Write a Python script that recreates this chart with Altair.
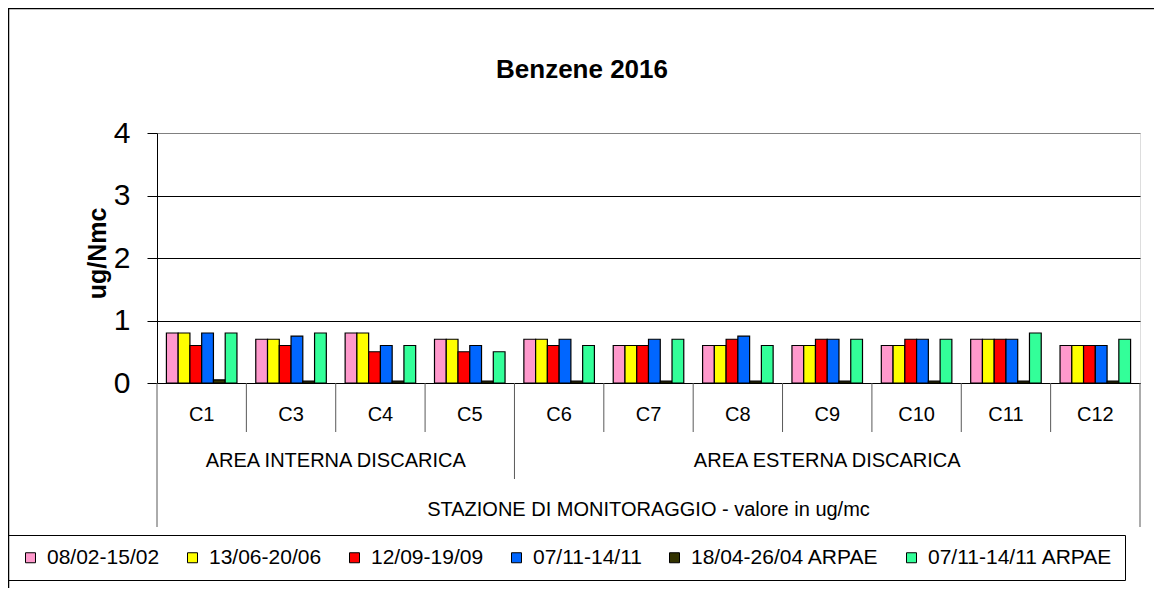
import altair as alt
import pandas as pd

# ---------------- data ----------------
chart_title = "Benzene 2016"
stations = ["C1", "C3", "C4", "C5", "C6", "C7", "C8", "C9", "C10", "C11", "C12"]
group_names = ["AREA INTERNA DISCARICA", "AREA ESTERNA DISCARICA"]
group_members = [["C1", "C3", "C4", "C5"],
                 ["C6", "C7", "C8", "C9", "C10", "C11", "C12"]]
axis_caption = "STAZIONE DI MONITORAGGIO - valore in ug/mc"

series = ["08/02-15/02", "13/06-20/06", "12/09-19/09", "07/11-14/11",
          "18/04-26/04 ARPAE", "07/11-14/11 ARPAE"]
colors = ["#FF99CC", "#FFFF00", "#FF0000", "#0066FF", "#333300", "#33FF99"]

v_0802 = [0.8, 0.7, 0.8, 0.7, 0.7, 0.6, 0.6, 0.6, 0.6, 0.7, 0.6]
v_1306 = [0.8, 0.7, 0.8, 0.7, 0.7, 0.6, 0.6, 0.6, 0.6, 0.7, 0.6]
v_1209 = [0.6, 0.6, 0.5, 0.5, 0.6, 0.6, 0.7, 0.7, 0.7, 0.7, 0.6]
v_0711 = [0.8, 0.75, 0.6, 0.6, 0.7, 0.7, 0.75, 0.7, 0.7, 0.7, 0.6]
v_1804_arpae = [0.05, 0.03, 0.03, 0.03, 0.03, 0.03, 0.03, 0.03, 0.03, 0.03, 0.03]
v_0711_arpae = [0.8, 0.8, 0.6, 0.5, 0.6, 0.7, 0.6, 0.7, 0.7, 0.8, 0.7]

y_ticks = [0, 1, 2, 3, 4]

FONT = "Liberation Sans"

# ---------------- tables ----------------
all_values = [v_0802, v_1306, v_1209, v_0711, v_1804_arpae, v_0711_arpae]
rows = []
for s, vals in zip(series, all_values):
    for st, v in zip(stations, vals):
        rows.append({"station": st, "series": s, "value": v})
bars_df = pd.DataFrame(rows)

first_of_groups = [g[0] for g in group_members]
inner_sep = pd.DataFrame({"station": [s for s in stations if s not in first_of_groups]})
group_sep = pd.DataFrame({"station": [g[0] for g in group_members[1:]]})
outer_start = pd.DataFrame({"station": [stations[0]]})
outer_end = pd.DataFrame({"station": [stations[-1]]})


def center_anchor(members):
    n = len(members)
    if n % 2 == 0:
        return members[n // 2 - 1], 1.0
    return members[n // 2], 0.5


xscale = alt.Scale(domain=stations, paddingInner=0, paddingOuter=0)

bars = alt.Chart(bars_df).mark_bar(stroke="black", strokeWidth=1.2).encode(
    x=alt.X("station:N", scale=xscale, title=None,
            axis=alt.Axis(ticks=False, tickSize=0, labelAngle=0, labelFontSize=20,
                          labelPadding=21, domainColor="black", grid=False,
                          labelColor="black")),
    xOffset=alt.XOffset("series:N", scale=alt.Scale(domain=series, paddingOuter=0.8,
                                                     paddingInner=0)),
    y=alt.Y("value:Q", scale=alt.Scale(domain=[0, 4], nice=False),
            axis=alt.Axis(values=y_ticks, title="ug/Nmc", titleFontSize=25,
                          titleFontWeight="bold", titleAngle=-90, titleX=-60,
                          titleY=120, titleAlign="center", titleBaseline="middle",
                          labelFontSize=30, labelPadding=17, tickSize=10,
                          tickColor="black", domainColor="black",
                          labelColor="black", titleColor="black",
                          gridColor={"condition": {"test": "datum.value === 4",
                                                   "value": "#808080"},
                                     "value": "black"})),
    color=alt.Color("series:N", scale=alt.Scale(domain=series, range=colors),
                    legend=alt.Legend(orient="none", legendX=-149, legendY=402,
                                      direction="horizontal", columns=6, title=None,
                                      symbolType="square", symbolSize=100,
                                      symbolStrokeColor="black", symbolStrokeWidth=1,
                                      labelFontSize=21, labelOffset=6, labelLimit=400,
                                      columnPadding=22, padding=12,
                                      strokeColor="black", labelColor="black",
                                      labelFont=FONT)),
)

sep_color = "#595959"


def sep_layer(df, y2, band):
    return alt.Chart(df).mark_rule(color=sep_color, strokeWidth=1).encode(
        x=alt.X("station:N", scale=xscale, bandPosition=band, title=None),
        y=alt.value(250), y2=alt.value(y2))


layers = [bars,
          sep_layer(inner_sep, 299, 0),
          sep_layer(group_sep, 346, 0),
          sep_layer(outer_start, 394, 0),
          sep_layer(outer_end, 394, 1)]

for name, members in zip(group_names, group_members):
    st, band = center_anchor(members)
    df = pd.DataFrame({"station": [st], "label": [name]})
    layers.append(alt.Chart(df).mark_text(fontSize=20, font=FONT, color="black",
                                          baseline="middle", align="center").encode(
        x=alt.X("station:N", scale=xscale, bandPosition=band, title=None),
        y=alt.value(328), text="label:N"))

st, band = center_anchor(stations)
cap_df = pd.DataFrame({"station": [st], "label": [axis_caption]})
layers.append(alt.Chart(cap_df).mark_text(fontSize=20, font=FONT, color="black",
                                          baseline="middle", align="center").encode(
    x=alt.X("station:N", scale=xscale, bandPosition=band, title=None),
    y=alt.value(377), text="label:N"))

title_df = pd.DataFrame({"label": [chart_title]})
layers.append(alt.Chart(title_df).mark_text(fontSize=26, fontWeight="bold", font=FONT,
                                            color="black", baseline="middle",
                                            align="center").encode(
    x=alt.value(425), y=alt.value(-63), text="label:N"))

frame_df = pd.DataFrame({"k": [0]})
frame = alt.Chart(frame_df).mark_rect(fill="transparent", stroke="black",
                                      strokeWidth=1.5).encode(
    x=alt.value(-148.5), x2=alt.value(3000), y=alt.value(-124.5), y2=alt.value(3000))
layers.append(frame)

chart = alt.layer(*layers).properties(
    width=983, height=250,
    padding={"left": 149, "top": 125, "right": 14, "bottom": 205},
    autosize=alt.AutoSizeParams(type="none"),
).configure_view(stroke="#808080", strokeWidth=1).configure(
    font=FONT, background="white"
).configure_axis(labelFont=FONT, titleFont=FONT)

chart.save("out.html", embed_options={"renderer": "svg", "actions": False})
